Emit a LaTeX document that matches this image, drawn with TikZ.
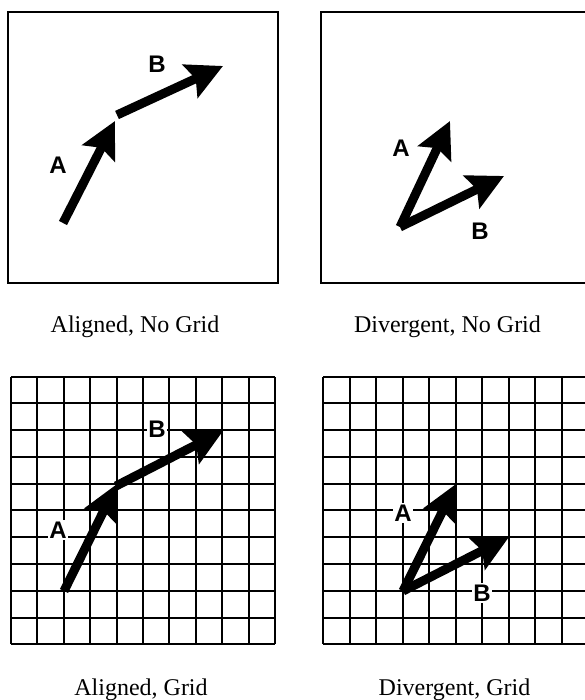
\documentclass[tikz,border=0pt]{standalone}
\usepackage{fontspec}
\setmainfont{Liberation Serif}
\newfontfamily\lblfont{Liberation Sans}
\usetikzlibrary{arrows.meta}
\tikzset{
  panel/.style={draw=black, line width=2.3pt},
  gridline/.style={draw=black, line width=2.5pt},
  vec/.style={line width=9pt, line cap=butt, -{Stealth[length=36pt,width=36pt,inset=6pt]}},
  lbl/.style={font=\lblfont\bfseries\fontsize{24}{24}\selectfont, fill=white, inner sep=1.5pt},
  captext/.style={font=\fontsize{24}{24}\selectfont, anchor=base, inner sep=0pt}
}
\begin{document}
\begin{tikzpicture}[x=1pt,y=-1pt]
\clip (0,0) rectangle (585,700);
\fill[white] (0,0) rectangle (585,700);

% Panel 1: Aligned, No Grid
\draw[panel] (8,12) rectangle (278,283);
\coordinate (a1t) at (63,223);
\coordinate (a1h) at (115,121);
\coordinate (b1t) at (117,115);
\coordinate (b1h) at (223,66);
\draw[vec] (a1t) -- (a1h);
\draw[vec] (b1t) -- (b1h);
\node[lbl] (la1) at (58,165) {A};
\node[lbl] (lb1) at (157,64) {B};
\node[captext] (c1) at (135,332.7) {Aligned, No Grid};

% Panel 2: Divergent, No Grid
\draw[panel] (321,12) rectangle (591,283);
\coordinate (o2) at (400,227);
\coordinate (a2h) at (450,121);
\coordinate (b2h) at (504,176);
\draw[vec] (o2) -- (a2h);
\draw[vec] (o2) -- (b2h);
\node[lbl] (la2) at (401,148) {A};
\node[lbl] (lb2) at (480,231) {B};
\node[captext] (c2) at (447.5,332.7) {Divergent, No Grid};

% Panel 3: Aligned, Grid
\foreach \i in {0,...,10} {
  \draw[gridline] ({round(10.7+26.46*\i)},377) -- ({round(10.7+26.46*\i)},644);
  \draw[gridline] (11,{round(376.7+26.76*\i)}) -- (275,{round(376.7+26.76*\i)});
}
\coordinate (a3t) at (64,591);
\coordinate (a3h) at (117,484);
\coordinate (b3t) at (116,486);
\coordinate (b3h) at (223,431);
\draw[vec] (a3t) -- (a3h);
\draw[vec] (b3t) -- (b3h);
\node[lbl] (la3) at (58,530) {A};
\node[lbl] (lb3) at (157,429) {B};
\node[captext] (c3) at (141,695) {Aligned, Grid};

% Panel 4: Divergent, Grid
\foreach \i in {0,...,10} {
  \draw[gridline] ({round(323.3+26.5*\i)},377) -- ({round(323.3+26.5*\i)},644);
  \draw[gridline] (323,{round(376.7+26.76*\i)}) -- (590,{round(376.7+26.76*\i)});
}
\coordinate (o4) at (403,591);
\coordinate (a4h) at (456,484);
\coordinate (b4h) at (509,537);
\draw[vec] (o4) -- (a4h);
\draw[vec] (o4) -- (b4h);
\node[lbl] (la4) at (403,513) {A};
\node[lbl] (lb4) at (482,593) {B};
\node[captext] (c4) at (454.5,695) {Divergent, Grid};
\end{tikzpicture}
\end{document}
